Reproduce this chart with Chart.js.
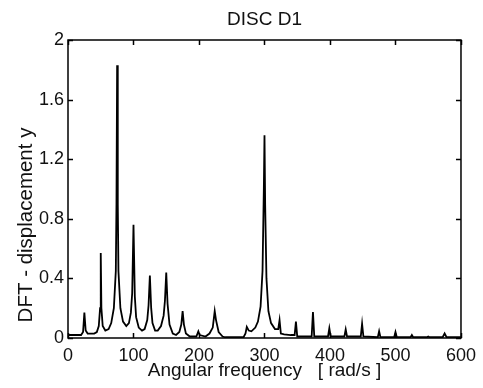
<!DOCTYPE html>
<html>
<head>
<meta charset="utf-8">
<script src="https://cdn.jsdelivr.net/npm/chart.js@4/dist/chart.umd.min.js"></script>
<style>
  body { margin: 0; background: #fff; }
  #wrap { width: 483px; height: 388px; }
</style>
</head>
<body>
<div id="wrap"><canvas id="dft" width="483" height="388"></canvas></div>
<script>
// values
const freq = [0, 20, 23, 25, 27, 30, 40, 44, 47, 49, 50, 51, 53, 57, 62, 66, 70, 73, 74, 75, 76, 77, 80, 84, 89,
  93, 96, 98, 100, 102, 104, 108, 113, 117, 121, 123, 125, 127, 129, 133, 137, 142, 146, 148, 150, 152, 155,
  160, 165, 170, 173, 175, 177, 180, 186, 196, 199, 201, 210, 216, 221, 224, 226, 230, 236, 240, 268, 271,
  273, 276, 280, 286, 290, 294, 297, 299, 300, 301, 303, 306, 310, 316, 321, 323, 325, 330, 340, 346, 348,
  350, 372, 374, 376, 397, 399, 401, 422, 424, 426, 447, 449, 451, 473, 475, 477, 498, 500, 502, 523, 525,
  527, 548, 550, 552, 572, 575, 578, 600];
const amp = [0.02, 0.02, 0.04, 0.17, 0.05, 0.03, 0.03, 0.04, 0.08, 0.2, 0.57, 0.2, 0.08, 0.05, 0.06, 0.1, 0.2,
  0.45, 0.9, 1.83, 0.9, 0.45, 0.2, 0.11, 0.08, 0.1, 0.17, 0.3, 0.76, 0.28, 0.14, 0.07, 0.05, 0.06, 0.12, 0.22,
  0.42, 0.2, 0.1, 0.05, 0.05, 0.08, 0.15, 0.25, 0.44, 0.23, 0.09, 0.03, 0.02, 0.04, 0.09, 0.18, 0.09, 0.03,
  0.01, 0.01, 0.045, 0.02, 0.01, 0.03, 0.07, 0.18, 0.12, 0.04, 0.01, 0.005, 0.005, 0.03, 0.075, 0.05, 0.045,
  0.07, 0.11, 0.21, 0.45, 1.0, 1.36, 0.9, 0.4, 0.18, 0.1, 0.06, 0.06, 0.12, 0.03, 0.025, 0.02, 0.02, 0.11,
  0.01, 0.01, 0.175, 0.01, 0.01, 0.065, 0.01, 0.01, 0.057, 0.01, 0.01, 0.095, 0.01, 0.005, 0.045, 0.005,
  0.005, 0.04, 0.005, 0.005, 0.02, 0.005, 0.005, 0.01, 0.005, 0.005, 0.03, 0.005, 0.005];

const xTicks = [0, 100, 200, 300, 400, 500, 600];
const yTicks = [0, 0.4, 0.8, 1.2, 1.6, 2];
const titleText = 'DISC D1';
const xTitle = 'Angular frequency   [ rad/s ]';
const yTitle = 'DFT - displacement y';

const FONT = '"Liberation Sans", Arial, sans-serif';
const INK = '#111';

// frame, inward ticks and titles, matlab style
const matlabFrame = {
  id: 'matlabFrame',
  afterDraw(chart) {
    const { ctx, chartArea: a, scales } = chart;
    ctx.save();
    ctx.strokeStyle = '#000';
    ctx.lineWidth = 1.5;
    ctx.strokeRect(a.left, a.top, a.right - a.left, a.bottom - a.top);
    ctx.beginPath();
    xTicks.forEach(v => {
      const px = Math.round(scales.x.getPixelForValue(v)) + 0.5;
      ctx.moveTo(px, a.bottom); ctx.lineTo(px, a.bottom - 5);
      ctx.moveTo(px, a.top); ctx.lineTo(px, a.top + 5);
    });
    yTicks.forEach(v => {
      const py = Math.round(scales.y.getPixelForValue(v)) + 0.5;
      ctx.moveTo(a.left, py); ctx.lineTo(a.left + 5, py);
      ctx.moveTo(a.right, py); ctx.lineTo(a.right - 5, py);
    });
    ctx.stroke();

    const cx = (a.left + a.right) / 2;
    ctx.fillStyle = INK;
    ctx.textAlign = 'center';
    ctx.textBaseline = 'alphabetic';
    ctx.font = '19px ' + FONT;
    ctx.fillText(titleText, cx, 25);
    ctx.fillText(xTitle, cx, 376);
    ctx.font = '20.5px ' + FONT;
    ctx.translate(32, 225);
    ctx.rotate(-Math.PI / 2);
    ctx.fillText(yTitle, 0, 0);
    ctx.restore();
  }
};

new Chart(document.getElementById('dft'), {
  type: 'line',
  data: {
    datasets: [{
      data: freq.map((f, i) => ({ x: f, y: amp[i] })),
      borderColor: '#000',
      borderWidth: 1.8,
      pointRadius: 0,
      tension: 0,
      fill: false
    }]
  },
  options: {
    responsive: false,
    animation: false,
    layout: { padding: { top: 40, right: 20, left: 0, bottom: 0 } },
    plugins: { legend: { display: false }, tooltip: { enabled: false }, title: { display: false } },
    scales: {
      x: {
        type: 'linear',
        min: 0,
        max: 600,
        afterBuildTicks: s => { s.ticks = xTicks.map(v => ({ value: v })); },
        afterFit: s => { s.height = 50; },
        grid: { display: false, drawTicks: false },
        border: { display: false },
        ticks: { color: INK, font: { family: FONT, size: 18 }, padding: 7, maxRotation: 0, autoSkip: false }
      },
      y: {
        min: 0,
        max: 2,
        afterBuildTicks: s => { s.ticks = yTicks.map(v => ({ value: v })); },
        afterFit: s => { s.width = 68; },
        grid: { display: false, drawTicks: false },
        border: { display: false },
        ticks: { color: INK, font: { family: FONT, size: 18 }, padding: 4, callback: v => String(+v.toFixed(1)) }
      }
    }
  },
  plugins: [matlabFrame]
});
</script>
</body>
</html>
